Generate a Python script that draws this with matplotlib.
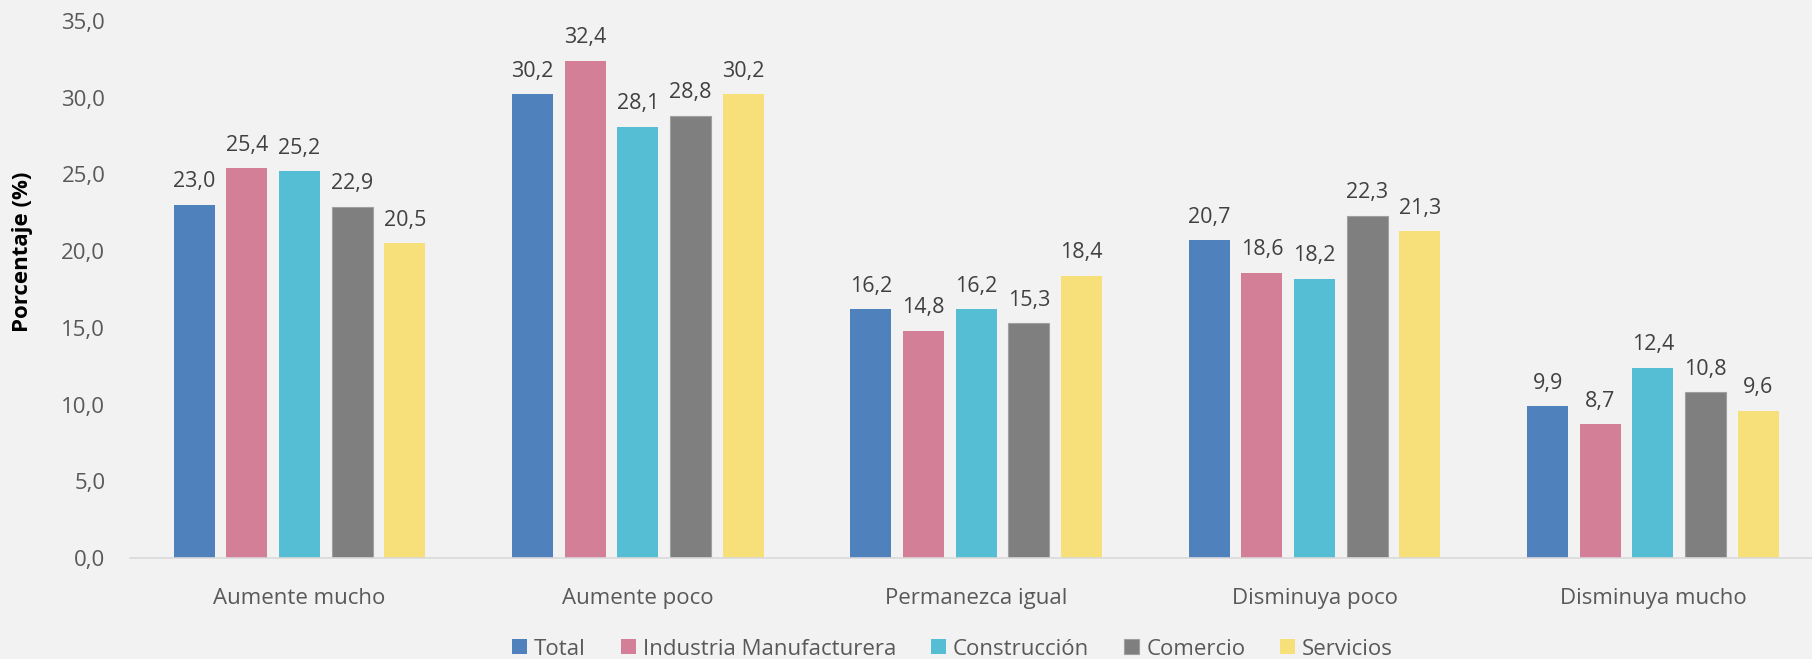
import matplotlib
matplotlib.use("Agg")
import matplotlib.pyplot as plt
import numpy as np

categories = ["Aumente mucho", "Aumente poco", "Permanezca igual", "Disminuya poco", "Disminuya mucho"]
series_names = ["Total", "Industria Manufacturera", "Construcción", "Comercio", "Servicios"]
total = [23.0, 30.2, 16.2, 20.7, 9.9]
industria = [25.4, 32.4, 14.8, 18.6, 8.7]
construccion = [25.2, 28.1, 16.2, 18.2, 12.4]
comercio = [22.9, 28.8, 15.3, 22.3, 10.8]
servicios = [20.5, 30.2, 18.4, 21.3, 9.6]
y_ticks = [0, 5, 10, 15, 20, 25, 30, 35]

series_values = [total, industria, construccion, comercio, servicios]
colors = ["#4f81bd", "#d37f98", "#55bed5", "#7f7f7f", "#f7e07a"]

plt.rcParams["font.family"] = ["Open Sans", "DejaVu Sans"]
bg = "#f2f2f2"

fig = plt.figure(figsize=(18.12, 6.59), dpi=100, facecolor=bg)
ax = fig.add_axes([0.0719, 0.1533, 0.9281, 0.8151], facecolor=bg)

x = np.arange(len(categories))
pitch = 0.1557
width = 0.121
for i, (name, vals, col) in enumerate(zip(series_names, series_values, colors)):
    pos = x + (i - 2) * pitch
    ax.bar(pos, vals, width, color=col, label=name,
           edgecolor="#a0a0a0" if name == "Comercio" else col,
           linewidth=0.8 if name == "Comercio" else 0)
    for xp, v in zip(pos, vals):
        ax.annotate(f"{v:.1f}".replace(".", ","), (xp, v), xytext=(0, 9),
                    textcoords="offset points", ha="center", va="bottom",
                    fontsize=15.5, color="#404040")

ax.set_xlim(-0.5, 4.47)
ax.set_ylim(0, 35)
ax.set_yticks(y_ticks)
ax.set_yticklabels([f"{t:.1f}".replace(".", ",") for t in y_ticks])
ax.set_xticks(x)
ax.set_xticklabels(categories)
ax.tick_params(axis="y", length=0, pad=18, labelsize=16, labelcolor="#595959")
ax.tick_params(axis="x", length=0, pad=21.5, labelsize=16, labelcolor="#595959")

for s in ["top", "right", "left"]:
    ax.spines[s].set_visible(False)
ax.spines["bottom"].set_color("#d9d9d9")
ax.spines["bottom"].set_linewidth(1.2)

ax.set_ylabel("Porcentaje (%)", fontsize=16, fontweight="bold", color="black")
ax.yaxis.set_label_coords(-0.0579, 0.57)

fig.legend(loc="center", bbox_to_anchor=(0.5257, 0.015), ncol=5, frameon=False,
           fontsize=16, labelcolor="#595959", handlelength=0.68, handleheight=0.68,
           handletextpad=0.32, columnspacing=1.56)

fig.savefig("out.png", dpi=100, facecolor=bg)
